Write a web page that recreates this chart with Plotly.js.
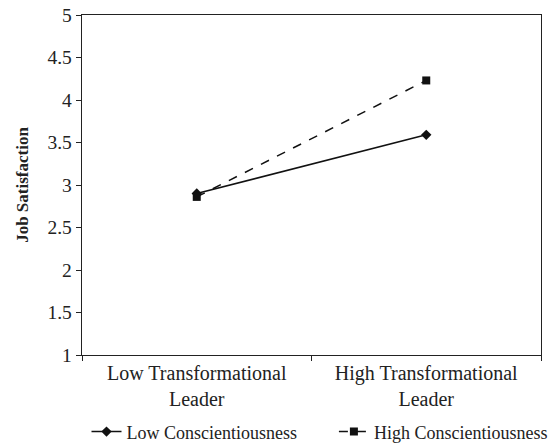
<!DOCTYPE html>
<html>
<head>
<meta charset="utf-8">
<script src="https://cdn.plot.ly/plotly-3.0.1.min.js"></script>
<style>html,body{margin:0;padding:0;background:#fff;}#chart{width:551px;height:445px;}</style>
</head>
<body>
<div id="chart"></div>
<script>
const categories = ["Low Transformational<br>Leader", "High Transformational<br>Leader"];
const lowConscientiousness = [2.90, 3.59];
const highConscientiousness = [2.86, 4.23];
const yTicks = [1, 1.5, 2, 2.5, 3, 3.5, 4, 4.5, 5];
const yTickLabels = ["1", "1.5", "2", "2.5", "3", "3.5", "4", "4.5", "5"];

const font = "Liberation Serif, Times New Roman, serif";

const traces = [
  {
    x: categories, y: lowConscientiousness, name: "Low Conscientiousness",
    type: "scatter", mode: "lines+markers", legend: "legend",
    line: {color: "#111", width: 1.5, dash: "solid"},
    marker: {symbol: "diamond", size: 8, color: "#111"}
  },
  {
    x: categories, y: highConscientiousness, name: "High Conscientiousness",
    type: "scatter", mode: "lines+markers", legend: "legend2",
    line: {color: "#111", width: 1.5, dash: "dash"},
    marker: {symbol: "square", size: 8, color: "#111"}
  }
];

const legendFont = {family: font, size: 18, color: "#222"};

const layout = {
  width: 551, height: 445,
  margin: {l: 82, r: 10, t: 15, b: 90, autoexpand: false},
  paper_bgcolor: "#fff", plot_bgcolor: "#fff",
  font: {family: font, size: 18, color: "#222"},
  showlegend: true,
  legend: {orientation: "h", x: 0.157, xref: "container", xanchor: "left",
           y: 0.071, yref: "container", yanchor: "top", font: legendFont, itemwidth: 30},
  legend2: {orientation: "h", x: 0.606, xref: "container", xanchor: "left",
           y: 0.071, yref: "container", yanchor: "top", font: legendFont, itemwidth: 30},
  xaxis: {
    type: "category", tickson: "boundaries", range: [-0.5, 1.5],
    showline: true, linecolor: "#222", linewidth: 1.3, mirror: true,
    ticks: "outside", ticklen: 5, tickcolor: "#222", showgrid: false, zeroline: false,
    tickfont: {family: font, size: 20, color: "#222"}
  },
  yaxis: {
    range: [1, 5], tickvals: yTicks, ticktext: yTickLabels,
    showline: true, linecolor: "#222", linewidth: 1.3, mirror: true,
    ticks: "outside", ticklen: 5, tickcolor: "#222", showgrid: false, zeroline: false,
    tickfont: {family: font, size: 19.5, color: "#222"},
    title: {text: "<b>Job Satisfaction</b>", font: {family: font, size: 17, color: "#222"}, standoff: 14}
  }
};

Plotly.newPlot("chart", traces, layout, {displayModeBar: false, staticPlot: true});
</script>
</body>
</html>
